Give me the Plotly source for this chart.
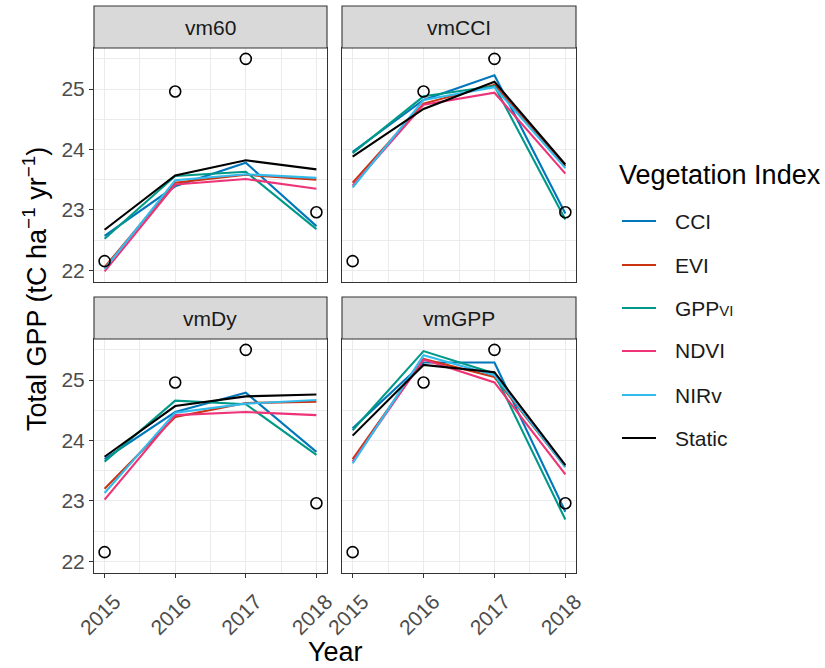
import plotly.graph_objects as go

W, H = 825, 668

years = [2015, 2016, 2017, 2018]
observed = [22.15, 24.96, 25.50, 22.96]

index_names = ["CCI", "EVI", "GPPvi", "NDVI", "NIRv", "Static"]
index_labels = ["CCI", "EVI", "GPP<span style='font-size:15px'>VI</span>", "NDVI", "NIRv", "Static"]
index_colors = ["#0077BB", "#CC3311", "#009988", "#EE3377", "#33BBEE", "#000000"]

vm60 = {
    "CCI":    [22.57, 23.39, 23.78, 22.73],
    "EVI":    [22.05, 23.45, 23.58, 23.50],
    "GPPvi":  [22.52, 23.56, 23.63, 22.68],
    "NDVI":   [21.98, 23.42, 23.51, 23.35],
    "NIRv":   [22.02, 23.49, 23.59, 23.53],
    "Static": [22.67, 23.57, 23.82, 23.67],
}
vmCCI = {
    "CCI":    [23.96, 24.82, 25.23, 22.94],
    "EVI":    [23.45, 24.76, 25.07, 23.72],
    "GPPvi":  [23.94, 24.88, 25.05, 22.84],
    "NDVI":   [23.40, 24.74, 24.94, 23.60],
    "NIRv":   [23.37, 24.82, 25.03, 23.69],
    "Static": [23.88, 24.67, 25.12, 23.75],
}
vmDy = {
    "CCI":    [23.69, 24.47, 24.79, 23.81],
    "EVI":    [23.20, 24.39, 24.62, 24.64],
    "GPPvi":  [23.65, 24.66, 24.60, 23.76],
    "NDVI":   [23.02, 24.42, 24.47, 24.42],
    "NIRv":   [23.13, 24.46, 24.61, 24.67],
    "Static": [23.73, 24.57, 24.73, 24.76],
}
vmGPP = {
    "CCI":    [24.20, 25.29, 25.29, 22.82],
    "EVI":    [23.69, 25.35, 25.05, 23.56],
    "GPPvi":  [24.17, 25.48, 25.11, 22.69],
    "NDVI":   [23.65, 25.34, 24.96, 23.44],
    "NIRv":   [23.62, 25.41, 25.08, 23.56],
    "Static": [24.08, 25.25, 25.13, 23.59],
}

models = ["vm60", "vmCCI", "vmDy", "vmGPP"]
model_data = [vm60, vmCCI, vmDy, vmGPP]

y_ticks = [22, 23, 24, 25]

FONT = "Liberation Sans, Arial, Helvetica, sans-serif"
SMALL = 21
BASE = 27

# panel boxes in pixels: (left, right) and (top, bottom)
cols = [(94, 327), (342, 576)]
rows = [(48, 282), (339, 573)]
strip_h = 42

fig = go.Figure()
layout = dict(
    width=W, height=H,
    margin=dict(l=0, r=0, t=0, b=0, autoexpand=False),
    paper_bgcolor="white", plot_bgcolor="white",
    showlegend=False,
    font=dict(family=FONT, color="#1A1A1A"),
)
shapes, annotations = [], []

ymin, ymax = 21.805, 25.68
xmin, xmax = 2014.85, 2018.15

for k, (name, data) in enumerate(zip(models, model_data)):
    r, c = divmod(k, 2)
    x0, x1 = cols[c]
    t0, t1 = rows[r]
    sfx = "" if k == 0 else str(k + 1)
    xa, ya = "x" + sfx, "y" + sfx

    for idx, col in zip(index_names, index_colors):
        fig.add_trace(go.Scatter(
            x=years, y=data[idx], mode="lines", name=idx,
            line=dict(color=col, width=2.1),
            xaxis=xa, yaxis=ya, hoverinfo="skip",
        ))
    fig.add_trace(go.Scatter(
        x=years, y=observed, mode="markers", name="Observed",
        marker=dict(symbol="circle-open", size=11, color="black",
                    line=dict(width=1.6, color="black")),
        xaxis=xa, yaxis=ya, hoverinfo="skip",
    ))

    bottom = r == 1
    left = c == 0
    common = dict(
        automargin=False,
        showline=True, linecolor="#333333", linewidth=1.1, mirror=True,
        showgrid=True, gridcolor="#EBEBEB", gridwidth=1.1,
        zeroline=False, tickcolor="#333333", tickwidth=1.1, ticklen=4,
        tickfont=dict(family=FONT, size=SMALL, color="#4D4D4D"),
    )
    layout["xaxis" + sfx] = dict(
        common, domain=[x0 / W, x1 / W], range=[xmin, xmax],
        anchor=ya, tickmode="array", tickvals=years,
        ticktext=[str(v) for v in years],
        showticklabels=bottom, ticks="outside" if bottom else "",
        tickangle=-45, ticklabelshift=10, ticklabelstandoff=3,
        minor=dict(tickmode="array", tickvals=[2014.5 + i for i in range(5)],
                   showgrid=True, gridcolor="#EBEBEB", gridwidth=0.55, ticks=""),
    )
    layout["yaxis" + sfx] = dict(
        common, domain=[1 - t1 / H, 1 - t0 / H], range=[ymin, ymax],
        anchor=xa, tickmode="array", tickvals=y_ticks,
        showticklabels=left, ticks="outside" if left else "",
        minor=dict(tickmode="array", tickvals=[21.5 + i for i in range(5)],
                   showgrid=True, gridcolor="#EBEBEB", gridwidth=0.55, ticks=""),
    )

    # facet strip
    s0 = t0 - strip_h
    shapes.append(dict(type="rect", xref="paper", yref="paper",
                       x0=x0 / W, x1=x1 / W, y0=1 - t0 / H, y1=1 - s0 / H,
                       fillcolor="#D9D9D9", line=dict(color="#333333", width=1.1),
                       layer="above"))
    annotations.append(dict(text=name, xref="paper", yref="paper",
                            x=(x0 + x1) / 2 / W, y=1 - (s0 + t0) / 2 / H,
                            showarrow=False, xanchor="center", yanchor="middle",
                            font=dict(family=FONT, size=SMALL, color="#1A1A1A")))

# axis titles
annotations.append(dict(text="Year", xref="paper", yref="paper",
                        x=335 / W, y=1 - 652 / H, showarrow=False,
                        xanchor="center", yanchor="middle",
                        font=dict(family=FONT, size=BASE, color="black")))
annotations.append(dict(text="Total GPP (tC ha<sup>\u22121</sup> yr<sup>\u22121</sup>)",
                        xref="paper", yref="paper", x=35 / W, y=1 - 289 / H,
                        showarrow=False, textangle=-90,
                        xanchor="center", yanchor="middle",
                        font=dict(family=FONT, size=BASE, color="black")))

# legend
annotations.append(dict(text="Vegetation Index", xref="paper", yref="paper",
                        x=617 / W, y=1 - 175 / H, showarrow=False,
                        xanchor="left", yanchor="middle",
                        font=dict(family=FONT, size=BASE, color="black")))
leg_y = [221, 265, 308, 351, 395, 438]
for lab, col, yy in zip(index_labels, index_colors, leg_y):
    shapes.append(dict(type="line", xref="paper", yref="paper",
                       x0=622 / W, x1=656 / W, y0=1 - yy / H, y1=1 - yy / H,
                       line=dict(color=col, width=2.1)))
    annotations.append(dict(text=lab, xref="paper", yref="paper",
                            x=673 / W, y=1 - yy / H, showarrow=False,
                            xanchor="left", yanchor="middle",
                            font=dict(family=FONT, size=SMALL, color="#1A1A1A")))

layout["shapes"] = shapes
layout["annotations"] = annotations
fig.update_layout(**layout)
fig.write_html("out.html")
